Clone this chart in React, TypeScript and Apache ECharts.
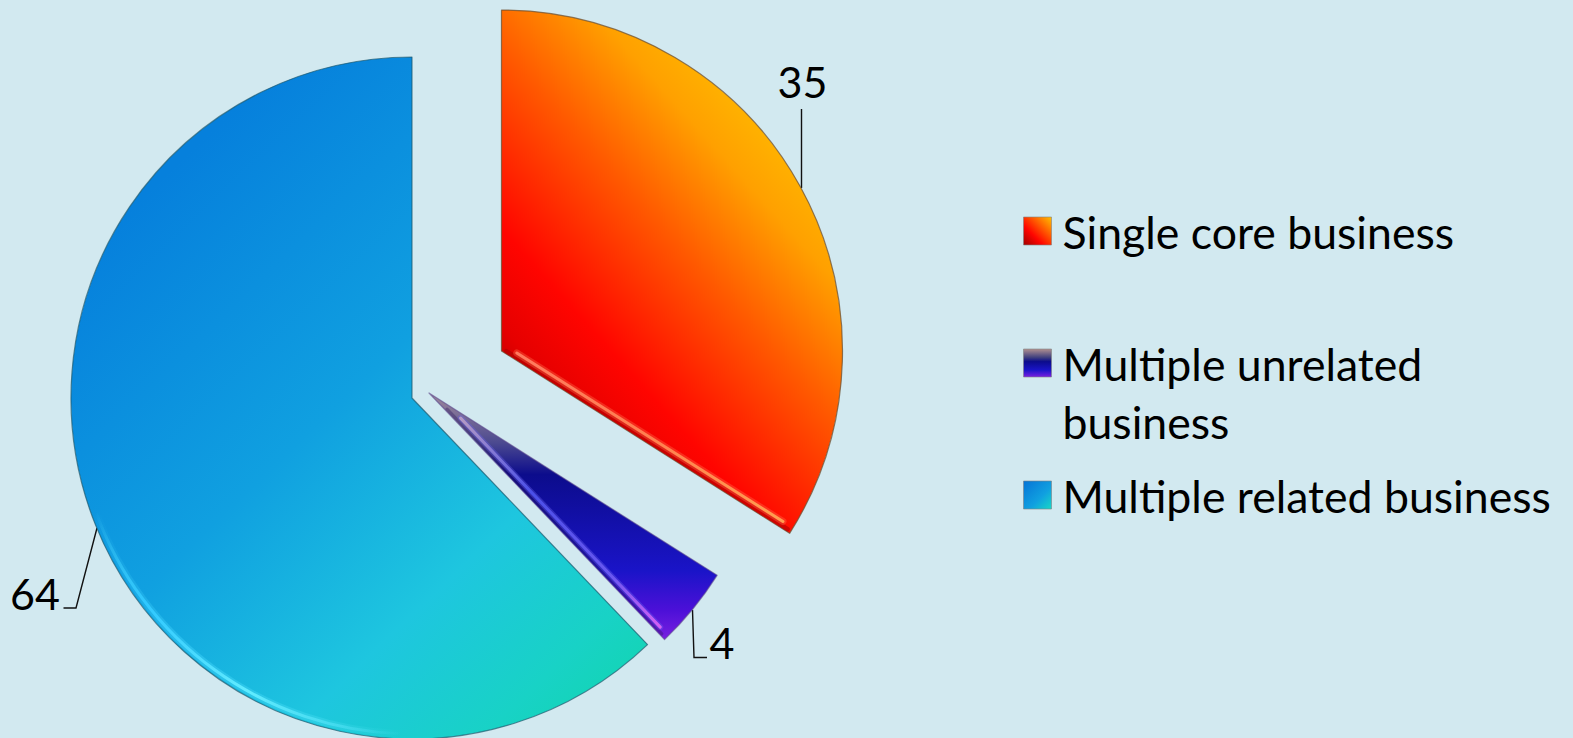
import React, { useEffect, useRef } from "react";
import * as echarts from "echarts";

const categories = ["Single core business", "Multiple unrelated business", "Multiple related business"];
const legendText = ["Single core business", " \nMultiple unrelated\nbusiness", "Multiple related business"];
const values = [35, 4, 64];

const FONT = "Lato";
const BG = "#d2e9f0";
const RADIUS = 341;
const centers: [number, number][] = [[501.5, 351], [429, 393], [412, 398]];

const grad = (x: number, y: number, x2: number, y2: number, stops: [number, string][], global = true) =>
  new echarts.graphic.LinearGradient(x, y, x2, y2, stops.map(([offset, color]) => ({ offset, color })), global);

const redStops: [number, string][] = [[0, "#b40000"], [0.13, "#e60000"], [0.3, "#ff0500"], [0.62, "#ff5a00"], [0.86, "#ffa000"], [1, "#ffb400"]];
const violetStops: [number, string][] = [[0, "#a08a9c"], [0.2, "#4c4a90"], [0.33, "#0c0c8c"], [0.72, "#1a14c8"], [0.88, "#4c10d8"], [1, "#7a20e0"]];
const blueStops: [number, string][] = [[0, "#0680dc"], [0.42, "#10a0e0"], [0.72, "#1ec6df"], [0.92, "#18d2c6"], [1, "#14d4b8"]];

const fills = [
  grad(501, 400, 785, 145, redStops),
  grad(0, 393, 0, 640, violetStops),
  grad(170, 170, 640, 660, blueStops),
];
const icons = [
  grad(0, 1, 1, 0, [[0, "#a00000"], [0.35, "#ff0500"], [1, "#ffc000"]], false),
  grad(0, 0, 0, 1, [[0, "#b09090"], [0.3, "#40407f"], [0.45, "#0c0c8c"], [0.75, "#1a14c8"], [1, "#7a20e0"]], false),
  grad(0, 0, 1, 1, [[0, "#0674d6"], [0.6, "#10a0e0"], [1, "#18d8c6"]], false),
];
const outlines = ["rgba(110,80,50,0.75)", "rgba(90,70,140,0.6)", "rgba(30,90,110,0.7)"];

// Leader lines run from the slice edge to the number beside it.
const leaders: number[][][] = [
  [[801.5, 188], [801.5, 109]],
  [[692.5, 610], [694, 657.5], [707, 657.5]],
  [[97, 528], [76, 608], [63.5, 608]],
];
const labelAnchors: [number, number][] = [[802.5, 81], [722, 642], [35, 593]];

const total = values.reduce((a, b) => a + b, 0);
// Clockwise angle from twelve o'clock at which slice i ends.
const endAngle = (i: number) =>
  (values.slice(0, i + 1).reduce((a, b) => a + b, 0) / total) * Math.PI * 2;

function sliceSeries(index: number) {
  return {
    type: "pie",
    silent: true,
    center: centers[index],
    radius: [0, RADIUS],
    startAngle: 90,
    clockwise: true,
    minShowLabelAngle: 0,
    avoidLabelOverlap: false,
    labelLayout: () => ({
      x: labelAnchors[index][0],
      y: labelAnchors[index][1],
      align: "center",
      verticalAlign: "middle",
      labelLinePoints: leaders[index],
    }),
    data: categories.map((name, i) => ({
      name,
      value: values[i],
      itemStyle:
        i === index
          ? { color: fills[i], borderColor: outlines[i], borderWidth: 1.2 }
          : { color: "transparent", borderWidth: 0 },
      label:
        i === index
          ? { show: true, position: "outside", formatter: "{c}", color: "#000", fontFamily: FONT, fontSize: 43 }
          : { show: false },
      labelLine:
        i === index
          ? { show: true, smooth: false, lineStyle: { color: "#111", width: 1.4 } }
          : { show: false },
    })),
  };
}

// Soft highlight along the clockwise edge of a slice, pushed inward by inset.
function edgeStrip(i: number, inset: number, start: number, stop: number, stroke: any, width: number) {
  const a = endAngle(i);
  const [cx, cy] = centers[i];
  const dx = Math.sin(a);
  const dy = -Math.cos(a);
  const ix = -Math.cos(a);
  const iy = -Math.sin(a);
  return {
    type: "line",
    shape: {
      x1: cx + dx * start + ix * inset,
      y1: cy + dy * start + iy * inset,
      x2: cx + dx * stop + ix * inset,
      y2: cy + dy * stop + iy * inset,
    },
    style: { stroke, lineWidth: width, lineCap: "round", fill: null },
  };
}

const redGlow = grad(513, 348, 787, 522, [[0, "#ff7a60"], [0.5, "#ff8050"], [1, "#ffa050"]]);
const violetGlow = grad(460, 420, 662, 627, [[0, "#b49ac4"], [0.35, "#4a50e8"], [0.75, "#6a58f0"], [1, "#d860f4"]]);
const rimGlow = grad(90, 520, 400, 738, [[0, "rgba(80,220,255,0)"], [0.25, "#30c8ff"], [0.6, "#62ecff"], [0.85, "rgba(90,230,250,0.5)"], [1, "rgba(90,230,250,0)"]]);
const rimHalo = grad(90, 520, 400, 738, [[0, "rgba(80,220,255,0)"], [0.4, "rgba(70,215,255,0.4)"], [0.8, "rgba(90,230,250,0.25)"], [1, "rgba(90,230,250,0)"]]);

const rimArc = (stroke: any, lineWidth: number) => ({
  type: "arc",
  shape: {
    cx: centers[2][0],
    cy: centers[2][1],
    r: RADIUS - 5,
    startAngle: (92 * Math.PI) / 180,
    endAngle: (160 * Math.PI) / 180,
    clockwise: true,
  },
  style: { stroke, lineWidth, fill: null },
});

const bevelSeries = {
  type: "custom",
  coordinateSystem: "none",
  silent: true,
  z: 5,
  data: [0],
  renderItem: () => ({
    type: "group",
    children: [
      edgeStrip(0, 2.5, 4, RADIUS - 4, "rgba(170,0,0,0.55)", 4.5),
      edgeStrip(0, 6.5, 14, RADIUS - 12, "rgba(255,120,80,0.35)", 7),
      edgeStrip(0, 6.5, 14, RADIUS - 12, redGlow, 3),
      edgeStrip(1, 2, 24, RADIUS - 6, "rgba(40,20,90,0.35)", 3),
      edgeStrip(1, 5.5, 40, RADIUS - 12, "rgba(110,100,240,0.35)", 6),
      edgeStrip(1, 5.5, 40, RADIUS - 12, violetGlow, 3),
      rimArc(rimHalo, 7),
      rimArc(rimGlow, 3),
    ],
  }),
};

const legendTops = [202, 276, 466];
const legends = categories.map((name, i) => ({
  show: true,
  orient: "vertical",
  left: 1023,
  top: legendTops[i],
  padding: 0,
  itemWidth: 28,
  itemHeight: 28,
  selectedMode: false,
  formatter: () => legendText[i],
  textStyle: { fontFamily: FONT, fontSize: 44.6, color: "#000", lineHeight: 58, padding: [0, 0, 0, 6] },
  data: [{ name, icon: "rect", itemStyle: { color: icons[i], borderColor: "rgba(130,130,130,0.6)", borderWidth: 1 } }],
}));

export default function App() {
  const ref = useRef<HTMLDivElement>(null);
  useEffect(() => {
    document.body.style.margin = "0";
    document.body.style.background = BG;
    const chart = echarts.init(ref.current!, undefined, { renderer: "svg" });
    chart.setOption({
      animation: false,
      backgroundColor: BG,
      legend: legends,
      series: [sliceSeries(2), sliceSeries(1), sliceSeries(0), bevelSeries],
    });
    return () => chart.dispose();
  }, []);
  return <div ref={ref} style={{ position: "absolute", left: 0, top: 0, width: 1573, height: 738 }} />;
}
